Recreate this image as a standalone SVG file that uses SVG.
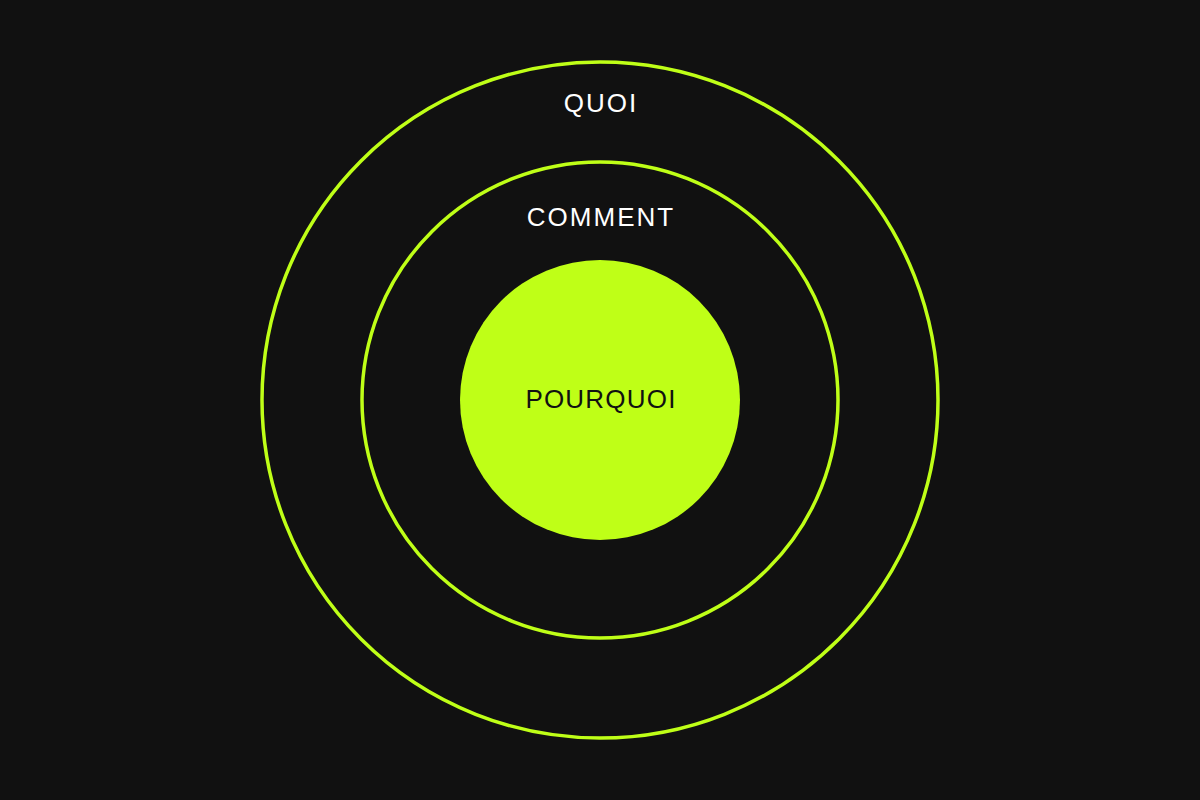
<svg xmlns="http://www.w3.org/2000/svg" width="1200" height="800" viewBox="0 0 1200 800">
<style>
.ring{fill:none;stroke:#bfff17;stroke-width:3.5}
.lbl{font-family:"Liberation Sans",Arial,sans-serif;font-size:26px;text-anchor:middle}
</style>
<rect width="1200" height="800" fill="#111111"/>
<g id="quoi">
<circle class="ring" cx="600" cy="400" r="338"/>
<text class="lbl" x="601" y="112" fill="#ffffff" letter-spacing="2">QUOI</text>
</g>
<g id="comment">
<circle class="ring" cx="600" cy="400" r="238"/>
<text class="lbl" x="601" y="226" fill="#ffffff" letter-spacing="2">COMMENT</text>
</g>
<g id="pourquoi">
<circle cx="600" cy="400" r="140" fill="#bfff17"/>
<text class="lbl" x="601" y="408" fill="#111111" letter-spacing="1.2">POURQUOI</text>
</g>
<g id="connectors"/>
</svg>
